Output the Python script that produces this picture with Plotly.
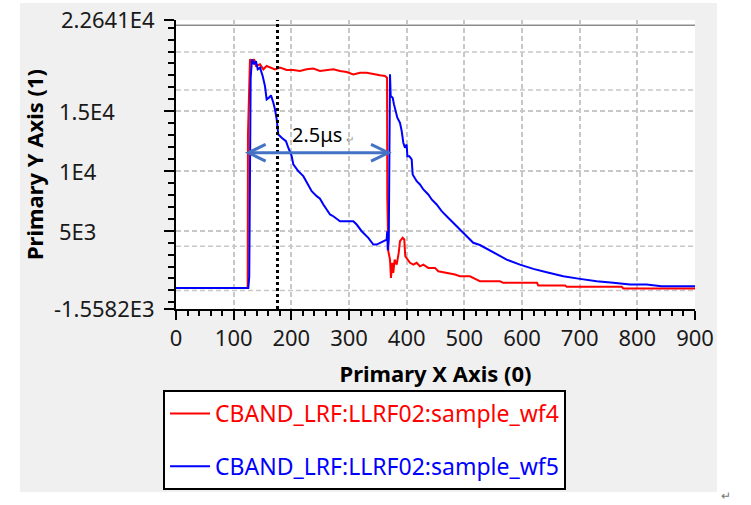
import plotly.graph_objects as go

# ---------------- data ----------------
wf4_x = [0, 123.5, 124.3, 124.8, 128.3, 131.3, 135.3, 138.7, 145.7, 151.4, 157.2, 163, 171.7, 180.3,
         192, 203.4, 215, 226.6, 238.1, 249.7, 261.3, 272.8, 284.4, 296, 307.5, 319.1, 330.6, 342.2,
         353.7, 362.4, 366.0, 366.4, 367.6, 368.2, 371.1, 372.8, 375.1, 376.8, 379.2, 382.7, 386.2,
         388.4, 393.1, 395.9, 397.6, 401.1, 405.8, 411.5, 417.3, 423.1, 428.9, 437.5, 449.1, 454.8,
         469.4, 483.8, 492.5, 509.8, 521.4, 527.1, 561.8, 567.5, 626.0, 628.2, 675.0, 677.5, 773.0,
         775.7, 900]
wf4_y = [200, 200, 350, 13060, 19350, 19070, 19350, 18790, 18930, 18510, 18790, 18650, 18510, 18650,
         18450, 18450, 18370, 18510, 18570, 18370, 18450, 18510, 18370, 18280, 18090, 18230, 18230, 18090,
         18010, 17950, 17815, 7755, 4955, 3280, 2580, 1050, 2306, 1470, 2580, 2160, 3145,
         4120, 4400, 4260, 2860, 2580, 2306, 2160, 2306, 2020, 2160, 1885, 1885, 1600,
         1470, 1325, 1185, 1185, 905, 765, 765, 630, 630, 405, 405, 295, 295,
         155, 155]

wf5_x = [0, 124, 125.4, 127, 129.5, 131.8, 135.3, 138.7, 141.7, 145.7, 150.3, 154.3, 157.2, 161.2,
         164.7, 168.8, 171.7, 174.6, 177.4, 183.3, 190.7, 194.7, 200.6, 203.4, 212, 220.8, 226.6,
         235.3, 244, 249.7, 255.5, 261.3, 267.1, 272.8, 284.4, 296, 307.5, 313.3, 322, 333.5, 342.2,
         348, 359.5, 365.3, 366.3, 367.3, 369.0, 370.2, 371.1, 372.3, 375.8, 378, 381.5, 383.8, 388.4,
         391.4, 394.2, 397.1, 400, 401.2, 404.6, 408.7, 410.4, 417.4, 423.1, 428.9, 437.5, 443.4, 452,
         460.7, 469.4, 480.9, 492.3, 504, 515.5, 527, 538.8, 556, 573.4, 596.5, 619.6, 642.8, 671.6,
         700.5, 729.5, 758.3, 787.2, 816, 842.2, 900]
wf5_y = [200, 200, 210, 1150, 17815, 19350, 18930, 19200, 18510, 18650, 17950, 17110, 15994, 16140,
         16330, 15720, 15155, 14320, 13060, 12780, 12500, 11945, 11240, 10546, 9985, 9565, 9010,
         8308, 7890, 7680, 7190, 6775, 6355, 6210, 5795, 5795, 5795, 5515, 4955, 4400, 3840,
         3840, 4120, 4260, 4955, 3350, 4300, 16800, 18090, 16270, 16136, 15575, 14880, 14460, 14040,
         13337, 12365, 11945, 12220, 11240, 11240, 10965, 9710, 9146, 8870, 8450, 8030, 7612, 7190,
         6630, 6210, 5660, 5100, 4535, 3985, 3800, 3500, 3050, 2580, 2160, 1800, 1520, 1185,
         965, 765, 630, 490, 490, 345, 345]

x_range = [0, 900]
y_range = [-1558.2, 22641]
y_end_ticks = [-1558.2, 22641]
y_end_labels = ["-1.5582E3", "2.2641E4"]
y_mid_ticks = [5000, 10000, 15000]
y_mid_labels = ["5E3", "1E4", "1.5E4"]
extra_grid_y = [0, 3700, 16770, 19960]
top_solid_y = 22200
marker_x = 176
pulse_start, pulse_end, pulse_y = 125.4, 368.2, 11526

names = ["CBAND_LRF:LLRF02:sample_wf4", "CBAND_LRF:LLRF02:sample_wf5"]
colors = ["#ff0000", "#0000ff"]

FONT = "Noto Sans"
GRID = "#c8c8c8"

fig = go.Figure()
for i, (xs, ys) in enumerate([(wf4_x, wf4_y), (wf5_x, wf5_y)]):
    fig.add_trace(go.Scatter(
        x=xs, y=ys, mode="lines",
        line=dict(color=colors[i], width=2),
        name=f'<span style="color:{colors[i]}">{names[i]}</span>',
        legendgroup=f"g{i}",
    ))

shapes = []
# gray panel and white plot area
shapes.append(dict(type="rect", xref="paper", yref="paper", x0=-0.3006, x1=1.0424, y0=-0.6332, y1=1.0588,
                   fillcolor="#f0f0f0", line=dict(width=0), layer="below"))
shapes.append(dict(type="rect", xref="paper", yref="paper", x0=0, x1=1, y0=0, y1=1,
                   fillcolor="white", line=dict(width=0), layer="below"))
for gy in extra_grid_y:
    shapes.append(dict(type="line", xref="paper", yref="y", x0=0, x1=1, y0=gy, y1=gy,
                       line=dict(color=GRID, width=1.5, dash="5px,3px"), layer="below"))
shapes.append(dict(type="line", xref="paper", yref="y", x0=0, x1=1, y0=top_solid_y, y1=top_solid_y,
                   line=dict(color="#8c8c8c", width=1.5), layer="below"))
# dotted marker
shapes.append(dict(type="line", xref="x", yref="paper", x0=marker_x, x1=marker_x, y0=0, y1=1,
                   line=dict(color="black", width=3, dash="dot"), layer="above"))
# double arrow
AC = "#4472c4"
shapes.append(dict(type="line", xref="x", yref="y", x0=pulse_start, x1=pulse_end, y0=pulse_y, y1=pulse_y,
                   line=dict(color=AC, width=3), layer="above"))
dx, dy = 30, 700
shapes.append(dict(type="path", xref="x", yref="y",
                   path=f"M{pulse_start+dx},{pulse_y+dy} L{pulse_start},{pulse_y} L{pulse_start+dx},{pulse_y-dy}",
                   line=dict(color=AC, width=3), layer="above"))
shapes.append(dict(type="path", xref="x", yref="y",
                   path=f"M{pulse_end-dx},{pulse_y+dy} L{pulse_end},{pulse_y} L{pulse_end-dx},{pulse_y-dy}",
                   line=dict(color=AC, width=3), layer="above"))

annotations = []
for v, t in zip(y_mid_ticks, y_mid_labels):
    annotations.append(dict(xref="paper", yref="y", x=-0.2293, y=v, text=t, showarrow=False,
                            xanchor="left", yanchor="middle", font=dict(family=FONT, size=22, color="#1a1a1a")))
annotations.append(dict(xref="x", yref="y", x=198, y=13060, text="2.5μs", showarrow=False,
                        xanchor="left", yanchor="middle", font=dict(family=FONT, size=20, color="black")))
annotations.append(dict(xref="x", yref="y", x=291, y=12700, text="↵", showarrow=False,
                        xanchor="left", yanchor="middle", font=dict(family=FONT, size=10, color="#999999")))
annotations.append(dict(xref="paper", yref="paper", x=1.0597, y=-0.6436, text="↵", showarrow=False,
                        xanchor="center", yanchor="middle", font=dict(family=FONT, size=12, color="#777777")))

fig.update_layout(
    width=751, height=505,
    margin=dict(l=176, r=56, t=20, b=196, autoexpand=False),
    paper_bgcolor="white", plot_bgcolor="white",
    font=dict(family=FONT, size=22, color="#1a1a1a"),
    shapes=shapes, annotations=annotations,
    showlegend=True,
    legend=dict(x=-0.025, y=-0.2803, xanchor="left", yanchor="top",
                bgcolor="white", bordercolor="black", borderwidth=2,
                font=dict(family=FONT, size=23),
                tracegroupgap=20, traceorder="grouped", itemwidth=40),
    xaxis=dict(range=x_range, dtick=100, tick0=0, showline=True, linecolor="black", linewidth=2,
               ticks="outside", ticklen=9, tickwidth=1.5, tickcolor="black", automargin=False,
               ticklabeloverflow="allow",
               showgrid=True, gridcolor=GRID, gridwidth=1.5, griddash="5px,3px", zeroline=False,
               minor=dict(dtick=20, tick0=0, ticks="outside", ticklen=5, tickwidth=1.5, tickcolor="black", showgrid=False),
               tickfont=dict(family=FONT, size=22, color="#1a1a1a"),
               title=dict(text="<b>Primary X Axis (0)</b>", font=dict(family=FONT, size=22, color="black"), standoff=15)),
    yaxis=dict(range=y_range, tickmode="array",
               tickvals=y_end_ticks + y_mid_ticks, ticktext=y_end_labels + ["", "", ""],
               showline=True, linecolor="black", linewidth=2, automargin=False,
               ticklabeloverflow="allow",
               ticks="outside", ticklen=10, tickwidth=1.5, tickcolor="black", ticklabelstandoff=5,
               showgrid=True, gridcolor=GRID, gridwidth=1.5, griddash="5px,3px", zeroline=False,
               minor=dict(tickmode="linear", dtick=1000, tick0=0, ticks="outside", ticklen=6, tickwidth=1.5,
                          tickcolor="black", showgrid=False),
               tickfont=dict(family=FONT, size=22, color="#1a1a1a"),
               title=dict(text="<b>Primary Y Axis (1)</b>", font=dict(family=FONT, size=22, color="black"), standoff=4)),
)

# remove the default 8px body margin so the 751x505 figure fills the window exactly
fig.write_html("out.html", config={"displayModeBar": False},
               post_script="document.body.style.margin='0px';")
